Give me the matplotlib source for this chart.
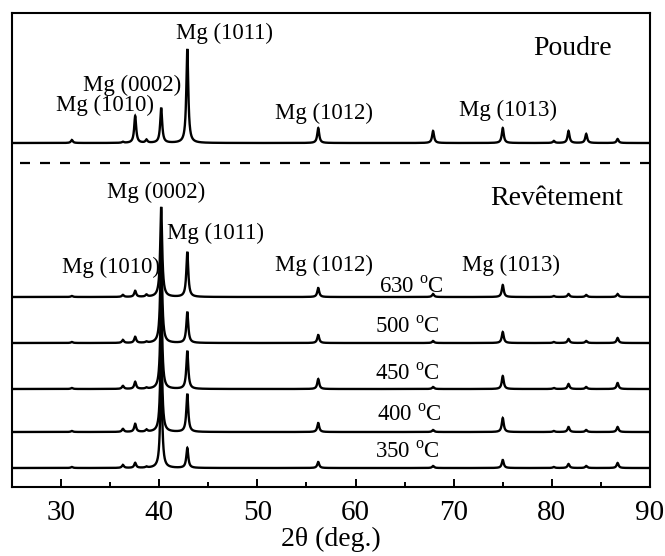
import numpy as np
import matplotlib
matplotlib.use("Agg")
import matplotlib.pyplot as plt

plt.rcParams['font.family'] = ['Liberation Serif', 'DejaVu Serif']
plt.rcParams['mathtext.fontset'] = 'custom'
plt.rcParams['mathtext.rm'] = 'Liberation Serif'

# ---- data ----
peak_pos = [31.1, 36.3, 37.55, 38.7, 40.2, 42.86, 56.2, 67.9, 75.0, 80.2, 81.7, 83.5, 86.7]

series_names = ["Poudre", "630", "500", "450", "400", "350"]
powder_int = [3, 1, 27, 3, 35, 94, 15, 12, 15, 2, 12, 9, 4]
t630_int = [1, 2, 6, 2, 90, 45, 9, 3, 12, 1, 3, 2, 3]
t500_int = [1, 3, 6, 1, 95, 31, 8, 2, 11, 1, 4, 2, 5]
t450_int = [1, 3, 7, 1, 95, 38, 10, 2, 13, 1, 5, 2, 6]
t400_int = [1, 3, 8, 2, 95, 38, 9, 2, 14, 1, 5, 2, 5]
t350_int = [1, 3, 5, 1, 95, 20, 6, 2, 8, 1, 4, 2, 5]
intensities = [powder_int, t630_int, t500_int, t450_int, t400_int, t350_int]
offsets = [344, 190, 144, 98, 55, 19]
dash_level = 324

temp_labels = ["630 $^{\\rm o}$C", "500 $^{\\rm o}$C", "450 $^{\\rm o}$C",
               "400 $^{\\rm o}$C", "350 $^{\\rm o}$C"]
temp_label_x = [65.7, 65.3, 65.3, 65.5, 65.3]
temp_label_y = [200, 160, 113, 72, 35]

top_labels = ["Mg (1010)", "Mg (0002)", "Mg (1011)", "Mg (1012)", "Mg (1013)"]
top_label_x = [34.5, 37.2, 46.6, 56.8, 75.5]
top_label_y = [382, 402, 454, 374, 377]
bot_labels = ["Mg (1010)", "Mg (0002)", "Mg (1011)", "Mg (1012)", "Mg (1013)"]
bot_label_x = [35.1, 39.7, 45.7, 56.8, 75.8]
bot_label_y = [220, 295, 254, 222, 222]

# ---- figure ----
fig = plt.figure(figsize=(6.65, 5.56), dpi=100)
ax = fig.add_axes([12/665, 69/556, 638/665, 474/556])

x = np.linspace(25, 90, 6501)
gamma = 0.12
for ints, off in zip(intensities, offsets):
    y = np.zeros_like(x)
    for p, h in zip(peak_pos, ints):
        y += h * gamma**2 / ((x - p)**2 + gamma**2)
    ax.plot(x, y + off, color='black', lw=1.7, solid_joinstyle='miter')

ax.axhline(dash_level, xmin=0.012, xmax=1.0, color='black', lw=1.6,
           linestyle=(0, (4.5, 4.5)))

for s, xx, yy in zip(top_labels, top_label_x, top_label_y):
    ax.text(xx, yy, s, ha='center', va='center', fontsize=16.5)
for s, xx, yy in zip(bot_labels, bot_label_x, bot_label_y):
    ax.text(xx, yy, s, ha='center', va='center', fontsize=16.5)
for s, xx, yy in zip(temp_labels, temp_label_x, temp_label_y):
    ax.text(xx, yy, s, ha='center', va='center', fontsize=16.5)

ax.text(82.1, 439, "Poudre", ha='center', va='center', fontsize=20)
ax.text(80.5, 289, "Revêtement", ha='center', va='center', fontsize=20)

ax.set_xlim(25, 90)
ax.set_ylim(0, 474)
ax.set_yticks([])
ax.set_xticks([30, 40, 50, 60, 70, 80, 90])
ax.set_xticks([35, 45, 55, 65, 75, 85], minor=True)
ax.tick_params(axis='x', which='major', direction='in', length=6, width=1.4,
               labelsize=21, pad=9)
ax.tick_params(axis='x', which='minor', direction='in', length=3.5, width=1.4)
for sp in ax.spines.values():
    sp.set_linewidth(1.5)
ax.set_xlabel("2θ (deg.)", fontsize=20, labelpad=1)

fig.savefig("out.png", dpi=100)
